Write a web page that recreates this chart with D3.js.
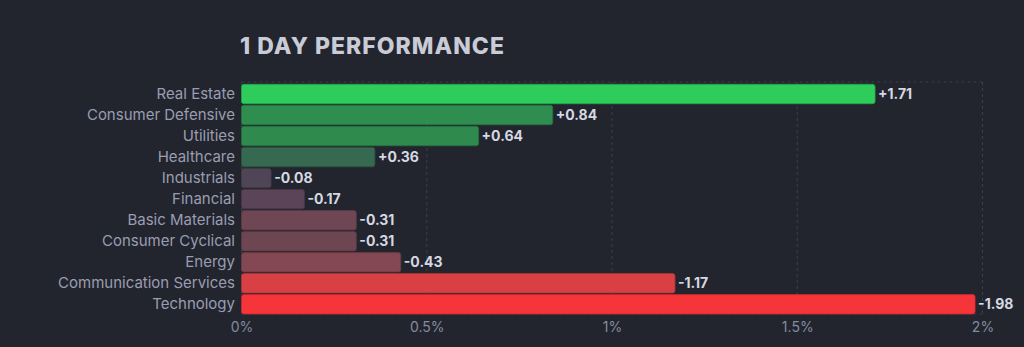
<!DOCTYPE html>
<html><head><meta charset="utf-8">
<script src="https://cdn.jsdelivr.net/npm/d3@7"></script>
<style>
html,body{margin:0;padding:0;background:#22252e;}
svg{display:block;}
</style></head>
<body>
<svg id="chart" width="1024" height="347"></svg>
<script>
const categories = ["Real Estate","Consumer Defensive","Utilities","Healthcare","Industrials","Financial","Basic Materials","Consumer Cyclical","Energy","Communication Services","Technology"];
const values = [1.71,0.84,0.64,0.36,-0.08,-0.17,-0.31,-0.31,-0.43,-1.17,-1.98];
const colors = ["#2ecc5a","#2f8e4f","#2f8a4e","#36694f","#4f4557","#5b4457","#6f4653","#6e4652","#834853","#d84044","#f6353a"];
const tickValues = [0,0.5,1,1.5,2];
const tickLabels = ["0%","0.5%","1%","1.5%","2%"];

(function(){
const svg = d3.select("#chart");
const mLeft = 241.5, mRight = 982.5, mTop = 82, mBottom = 314;
const x = d3.scaleLinear().domain([0,2]).range([mLeft,mRight]);
const y = d3.scaleBand().domain(categories).range([83.5,314.8]).paddingInner(0.0775).paddingOuter(0.03875);
const font = "Inter, 'Open Sans', sans-serif";

svg.append("rect").attr("width",1024).attr("height",347).attr("fill","#22252e");

svg.append("text").attr("x",240).attr("y",54)
  .attr("font-family",font).attr("font-weight",800)
  .attr("font-size",22.5).attr("letter-spacing",1.0).attr("fill","#c9cbd6").text("1 DAY PERFORMANCE")
  .attr("textLength",265).attr("lengthAdjust","spacingAndGlyphs");

const g = svg.append("g");
g.selectAll("line.v").data(tickValues).join("line")
  .attr("x1",d=>x(d)).attr("x2",d=>x(d)).attr("y1",mTop).attr("y2",mBottom)
  .attr("stroke","#3a3e4a").attr("stroke-width",1).attr("stroke-dasharray","3,3");
g.append("line").attr("x1",mLeft).attr("x2",mRight).attr("y1",mTop).attr("y2",mTop)
  .attr("stroke","#3a3e4a").attr("stroke-dasharray","3,3");
g.append("line").attr("x1",mLeft).attr("x2",mRight).attr("y1",mBottom).attr("y2",mBottom)
  .attr("stroke","#3a3e4a").attr("stroke-dasharray","3,3");

const rows = categories.map((c,i)=>({c, v:values[i], col:colors[i]}));
svg.selectAll("rect.bar").data(rows).join("rect")
  .attr("x",x(0)).attr("y",d=>y(d.c))
  .attr("width",d=>x(Math.abs(d.v))-x(0)).attr("height",y.bandwidth())
  .attr("rx",2.5).attr("fill",d=>d.col)
  .attr("stroke",d=>d3.color(d.col).darker(0.6)).attr("stroke-width",0.8);

svg.selectAll("text.val").data(rows).join("text")
  .attr("x",d=>x(Math.abs(d.v))+3).attr("y",d=>y(d.c)+y.bandwidth()/2)
  .attr("dy","0.35em").attr("font-family",font)
  .attr("font-weight",700).attr("font-size",14).attr("fill","#d6d8e2")
  .text(d=>(d.v>0?"+":"")+d.v.toFixed(2));

const ya = svg.append("g").attr("transform",`translate(${mLeft},0)`)
  .call(d3.axisLeft(y).tickSize(0).tickPadding(6.5));
ya.select(".domain").remove();
ya.selectAll("text").attr("font-family",font)
  .attr("font-size",15).attr("fill","#9a9db1");

const xa = svg.append("g").attr("transform",`translate(0,${mBottom})`)
  .call(d3.axisBottom(x).tickValues(tickValues).tickFormat((d,i)=>tickLabels[i]).tickSize(0).tickPadding(8));
xa.select(".domain").remove();
xa.selectAll("text").attr("font-family",font)
  .attr("font-size",14).attr("fill","#868aa0");
})();
</script>
</body></html>
